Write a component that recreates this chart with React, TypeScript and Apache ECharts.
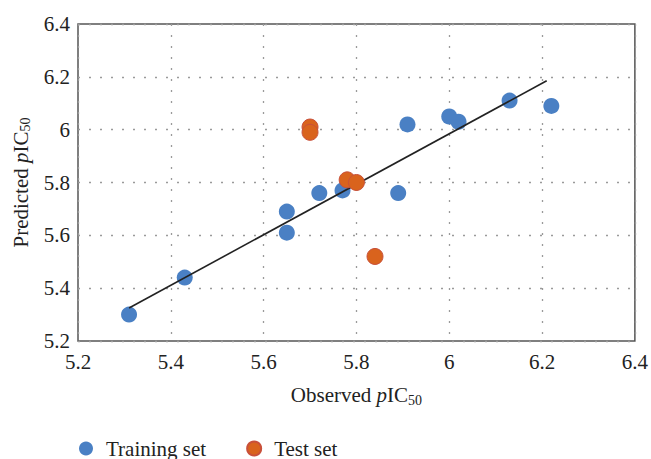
import React, { useEffect, useRef } from "react";
import * as echarts from "echarts";

const trainingX = [5.31, 5.43, 5.65, 5.65, 5.72, 5.77, 5.89, 5.91, 6.0, 6.02, 6.13, 6.22];
const trainingY = [5.3, 5.44, 5.69, 5.61, 5.76, 5.77, 5.76, 6.02, 6.05, 6.03, 6.11, 6.09];
const testX = [5.7, 5.7, 5.78, 5.8, 5.84];
const testY = [6.01, 5.99, 5.81, 5.8, 5.52];
const trendX = [5.31, 6.21];
const trendY = [5.325, 6.185];
const axisMin = 5.2;
const axisMax = 6.4;
const axisStep = 0.2;

const FONT = "Liberation Serif";

export default function App() {
  const ref = useRef<HTMLDivElement>(null);
  useEffect(() => {
    if (!ref.current) return;
    const chart = echarts.init(ref.current, null, { renderer: "svg" });
    const rich = {
      n: { fontFamily: FONT, fontSize: 21, color: "#222" },
      i: { fontFamily: FONT, fontSize: 21, fontStyle: "italic", color: "#222" },
      s: { fontFamily: FONT, fontSize: 14, color: "#222", padding: [10, 0, 0, 0] },
    };
    const split = { show: true, lineStyle: { color: "#9a9a9a", type: [2, 9], width: 1.3 } };
    const label = (v: number) => "{t|" + (Math.round(v * 10) / 10).toString() + "}";
    const tickStyle = {
      fontFamily: FONT,
      fontSize: 21,
      color: "#222",
      rich: { t: { fontFamily: FONT, fontSize: 21, color: "#222" } },
    };
    chart.setOption({
      animation: false,
      textStyle: { fontFamily: FONT },
      grid: {
        left: 78,
        right: 14,
        top: 24,
        bottom: 118,
        show: true,
        borderColor: "#555",
        borderWidth: 1.5,
        backgroundColor: "transparent",
      },
      legend: {
        data: ["Training set", "Test set"],
        left: 74,
        top: 433,
        icon: "circle",
        itemWidth: 14,
        itemHeight: 14,
        itemGap: 40,
        textStyle: { fontFamily: FONT, fontSize: 21, color: "#222", padding: [0, 0, 0, 8] },
      },
      xAxis: {
        type: "value",
        min: axisMin,
        max: axisMax,
        interval: axisStep,
        axisLine: { show: false },
        axisTick: { show: false },
        splitLine: split,
        axisLabel: { ...tickStyle, margin: 10, formatter: label },
        name: "{n|Observed }{i|p}{n|IC}{s|50}",
        nameLocation: "middle",
        nameGap: 42,
        nameTextStyle: { fontFamily: FONT, fontSize: 21, color: "#222", rich },
      },
      yAxis: {
        type: "value",
        min: axisMin,
        max: axisMax,
        interval: axisStep,
        axisLine: { show: false },
        axisTick: { show: false },
        splitLine: split,
        axisLabel: { ...tickStyle, margin: 8, formatter: label },
        name: "{n|Predicted }{i|p}{n|IC}{s|50}",
        nameLocation: "middle",
        nameRotate: 90,
        nameGap: 37,
        nameTextStyle: { fontFamily: FONT, fontSize: 21, color: "#222", rich },
      },
      series: [
        {
          name: "Training set",
          type: "scatter",
          symbol: "circle",
          symbolSize: 16,
          itemStyle: { color: "#4a80c4", opacity: 1 },
          data: trainingX.map((x, i) => [x, trainingY[i]]),
          z: 2,
        },
        {
          name: "Trend",
          type: "line",
          data: trendX.map((x, i) => [x, trendY[i]]),
          showSymbol: false,
          symbol: "none",
          lineStyle: { color: "#222", width: 1.6 },
          z: 3,
        },
        {
          name: "Test set",
          type: "scatter",
          symbol: "circle",
          symbolSize: 16,
          itemStyle: { color: "#d9631d", borderColor: "#c9503a", borderWidth: 1, opacity: 1 },
          data: testX.map((x, i) => [x, testY[i]]),
          z: 4,
        },
      ],
    });
    return () => chart.dispose();
  }, []);
  return <div ref={ref} style={{ width: 651, height: 459, position: "absolute", left: 0, top: 0 }} />;
}
